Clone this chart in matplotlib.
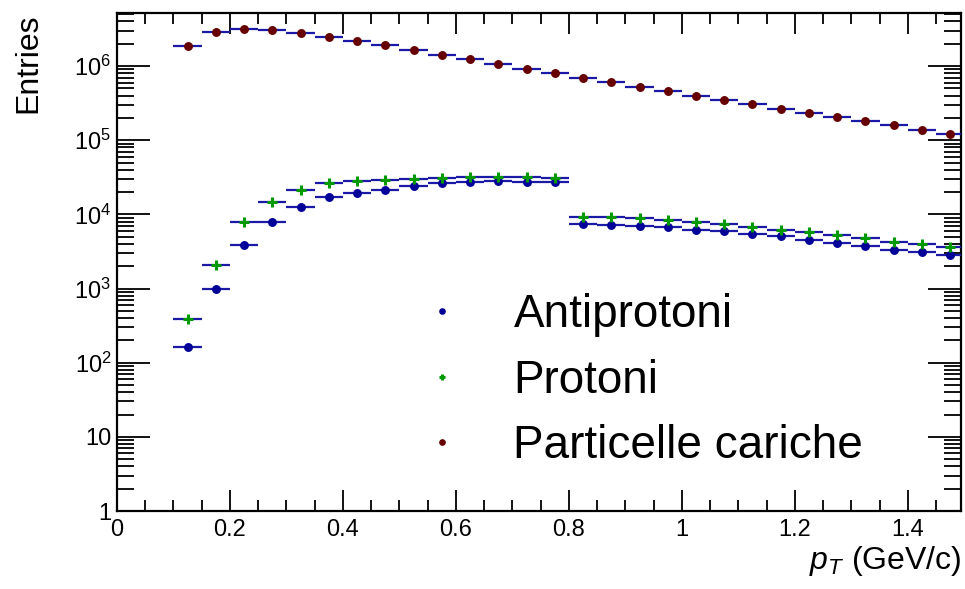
import numpy as np
import matplotlib
matplotlib.use("Agg")
import matplotlib.pyplot as plt
from matplotlib.ticker import FixedLocator, NullFormatter, FuncFormatter

plt.rcParams['font.family'] = ['Liberation Sans', 'DejaVu Sans']
plt.rcParams['mathtext.fontset'] = 'custom'
plt.rcParams['mathtext.rm'] = 'Liberation Sans'
plt.rcParams['mathtext.it'] = 'Liberation Sans:italic'

# bin centres (width 0.05 GeV/c)
pt = np.arange(0.125, 1.5, 0.05)

antiprotoni = [162, 982, 3810, 7930, 12600, 17000, 19300, 21400, 24000, 26300,
               27400, 28000, 27400, 27400,
               7310, 7230, 7000, 6720, 6120, 5940, 5410, 5040, 4490, 4130,
               3720, 3360, 3070, 2840]
protoni = [387, 2070, 7780, 14600, 21600, 26900, 28600, 28900, 29800, 31000,
           32000, 32000, 31700, 31000,
           9170, 9170, 8810, 8360, 7850, 7450, 6720, 6250, 5750, 5350,
           4780, 4260, 3930, 3650]
cariche = [1.87e6, 2.86e6, 3.13e6, 3.04e6, 2.80e6, 2.50e6, 2.18e6, 1.90e6,
           1.65e6, 1.43e6, 1.24e6, 1.08e6, 9.25e5, 8.05e5, 7.0e5, 6.05e5,
           5.3e5, 4.62e5, 4.0e5, 3.49e5, 3.05e5, 2.67e5, 2.33e5, 2.04e5,
           1.79e5, 1.58e5, 1.38e5, 1.22e5]

labels = ['Antiprotoni', 'Protoni', 'Particelle cariche']

fig = plt.figure(figsize=(9.65, 5.89), dpi=100)
ax = fig.add_axes([0.1212, 0.1324, 0.8746, 0.8455])

bar_col = '#1a1aa6'
h1 = ax.errorbar(pt, antiprotoni, xerr=0.025, fmt='o', color='#000099',
                 ms=5.4, ecolor=bar_col, elinewidth=1.6, capsize=0, zorder=3)
h2 = ax.errorbar(pt, protoni, xerr=0.025, fmt='+', color='#009900',
                 ms=7, mew=2.2, ecolor=bar_col, elinewidth=1.6, capsize=0, zorder=3)
h3 = ax.errorbar(pt, cariche, xerr=0.025, fmt='o', color='#660000',
                 ms=5.4, ecolor=bar_col, elinewidth=1.6, capsize=0, zorder=3)

ax.set_yscale('log')
ax.set_xlim(0, 1.494)
ax.set_ylim(1, 5.19e6)

ax.xaxis.set_major_locator(FixedLocator(np.arange(0, 1.5, 0.2)))
ax.xaxis.set_minor_locator(FixedLocator(np.arange(0, 1.5, 0.05)))
ax.xaxis.set_major_formatter(FuncFormatter(lambda v, p: ('%.1f' % v).rstrip('0').rstrip('.')))

def ylab(v, p):
    e = int(round(np.log10(v)))
    if e == 0:
        return '1'
    if e == 1:
        return '10'
    return r'$10^{%d}$' % e

decades = 10.0 ** np.arange(0, 7)
ax.yaxis.set_major_locator(FixedLocator(decades))
minors = [d * m for d in decades for m in range(2, 10) if d * m < 5.19e6]
ax.yaxis.set_minor_locator(FixedLocator(minors))
ax.yaxis.set_minor_formatter(NullFormatter())
ax.yaxis.set_major_formatter(FuncFormatter(ylab))

ax.tick_params(which='both', direction='in', top=True, right=True, labelsize=17, width=1.3)
ax.tick_params(axis='x', which='major', length=15, pad=6)
ax.tick_params(axis='x', which='minor', length=8)
ax.tick_params(axis='y', which='major', length=24, pad=4)
ax.tick_params(axis='y', which='minor', length=12)
for s in ax.spines.values():
    s.set_linewidth(1.6)

ax.set_xlabel(r'$p_{T}$ (GeV/c)', fontsize=23, loc='right', labelpad=2)
ax.set_ylabel('Entries', fontsize=23, loc='top', labelpad=22)

leg = ax.legend([h1[0], h2[0], h3[0]], labels, frameon=False, fontsize=33,
                markerscale=0.7, handlelength=1.0, handletextpad=1.06,
                labelspacing=0.47, loc='upper left',
                bbox_to_anchor=(0.309, 0.52))

fig.savefig('out.png', dpi=100)
